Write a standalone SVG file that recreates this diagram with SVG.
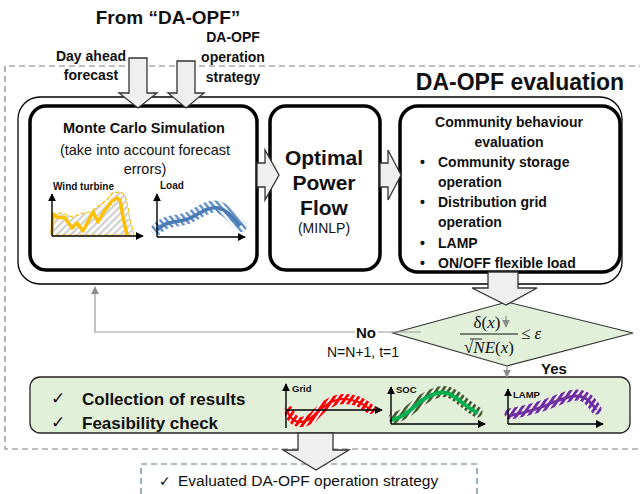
<svg xmlns="http://www.w3.org/2000/svg" width="640" height="494" viewBox="0 0 640 494">
<defs>
<style>
text{font-family:"Liberation Sans",Arial,sans-serif;fill:#111}
.b{font-weight:bold}
.box{fill:#fff;stroke:#000;stroke-width:3.5}
.blk{fill:#efefef;stroke:#333;stroke-width:1.3;stroke-linejoin:miter}
.ax{stroke:#000;stroke-width:1.4;fill:none;marker-end:url(#ah)}
.dash{fill:none;stroke:#7f7f7f;stroke-width:1.2;stroke-dasharray:6,4}
.m{font-family:"Liberation Serif","DejaVu Serif",serif}
.ck{font-family:"DejaVu Sans",sans-serif}
</style>
<marker id="ah" viewBox="0 0 10 10" refX="9" refY="5" markerWidth="8" markerHeight="8" markerUnits="userSpaceOnUse" orient="auto"><path d="M0,0 L10,5 L0,10 z" fill="#000"/></marker>
<marker id="ag" viewBox="0 0 10 10" refX="9" refY="5" markerWidth="8" markerHeight="8" markerUnits="userSpaceOnUse" orient="auto"><path d="M0,0 L10,5 L0,10 z" fill="#8c8c8c"/></marker>
<pattern id="pGray" width="5" height="5" patternUnits="userSpaceOnUse" patternTransform="rotate(45)"><rect width="5" height="5" fill="#fff"/><rect width="2.2" height="5" fill="#d0d0d0"/></pattern>
<pattern id="pBlue" width="5" height="5" patternUnits="userSpaceOnUse" patternTransform="rotate(-40)"><rect width="5" height="5" fill="#fff"/><rect width="2.4" height="5" fill="#5b8cc6"/></pattern>
<pattern id="pRed" width="5" height="5" patternUnits="userSpaceOnUse" patternTransform="rotate(35)"><rect width="5" height="5" fill="#fff"/><rect width="3" height="5" fill="#ff0000"/></pattern>
<pattern id="pGrn" width="5" height="5" patternUnits="userSpaceOnUse" patternTransform="rotate(35)"><rect width="5" height="5" fill="#fff"/><rect width="2.8" height="5" fill="#3d5a23"/></pattern>
<pattern id="pPur" width="5" height="5" patternUnits="userSpaceOnUse" patternTransform="rotate(35)"><rect width="5" height="5" fill="#fff"/><rect width="3" height="5" fill="#7030a0"/></pattern>
</defs>

<!-- frame -->
<path class="dash" d="M645,66 H5 V449 H645"/>
<text class="b" x="168" y="24" font-size="19" text-anchor="middle">From “DA-OPF”</text>
<text class="b" x="91" y="61" font-size="14" text-anchor="middle">Day ahead</text>
<text class="b" x="91" y="80" font-size="14" text-anchor="middle">forecast</text>
<text class="b" x="233" y="42" font-size="14" text-anchor="middle">DA-OPF</text>
<text class="b" x="233" y="62" font-size="14" text-anchor="middle">operation</text>
<text class="b" x="233" y="82" font-size="14" text-anchor="middle">strategy</text>
<text class="b" x="520" y="90" font-size="23" text-anchor="middle">DA-OPF evaluation</text>

<g id="evaluation-frame">
<rect x="18" y="97" width="604" height="187" rx="22" fill="#fff" stroke="#000" stroke-width="1.3"/>
</g>

<g id="monte-carlo">
<rect class="box" x="30" y="106" width="227" height="164" rx="16"/>
<text class="b" x="144" y="133" font-size="14.5" text-anchor="middle">Monte Carlo Simulation</text>
<text x="145" y="155" font-size="14.5" text-anchor="middle">(take into account forecast</text>
<text x="145" y="174" font-size="14.5" text-anchor="middle">errors)</text>
<text class="b" x="53" y="190" font-size="10">Wind turbine</text>
<path d="M52,235 L53,217 L60,213 L67,215 L73,217 L83,213 L90,212 L97,207 L107,200 L112,193 L120,192 L125,195 L128,207 L130,220 L133,230 L134,235 Z" fill="url(#pGray)" stroke="#ffc000" stroke-width="1.2" stroke-dasharray="4,2"/>
<polyline points="52,234 53,214 57,217 65,218 72,228 77,223 83,231 93,212 98,222 103,213 112,201 117,198 120,200 123,217 127,235" fill="none" stroke="#ffc000" stroke-width="3.5" stroke-linejoin="round"/>
<path class="ax" d="M52,236 V194"/>
<path class="ax" d="M52,236 H143"/>
<text class="b" x="160" y="189" font-size="10">Load</text>
<path d="M157,229 C165,220 175,222 188,218 C198,214 208,204 218,207 C228,210 234,220 241,226" fill="none" stroke="url(#pBlue)" stroke-width="12" stroke-linecap="round"/>
<path d="M157,230 C165,221 175,223 188,219 C198,215 208,206 218,208 C228,210 234,219 240,226" fill="none" stroke="#4a7ab3" stroke-width="3.5"/>
<path class="ax" d="M157,237 V194"/>
<path class="ax" d="M157,237 H245"/>
</g>

<g id="opf">
<rect class="box" x="270" y="106" width="110" height="164" rx="16"/>
<text class="b" x="324" y="165" font-size="21" text-anchor="middle">Optimal</text>
<text class="b" x="324" y="190" font-size="21" text-anchor="middle">Power</text>
<text class="b" x="324" y="215" font-size="21" text-anchor="middle">Flow</text>
<text x="324" y="233" font-size="14" text-anchor="middle">(MINLP)</text>
</g>

<g id="community">
<rect class="box" x="400" y="106" width="220" height="166" rx="18"/>
<text class="b" x="509" y="127" font-size="14" text-anchor="middle">Community behaviour</text>
<text class="b" x="509" y="147" font-size="14" text-anchor="middle">evaluation</text>
<text class="b" x="420" y="167" font-size="14">•</text><text class="b" x="438" y="167" font-size="14">Community storage</text>
<text class="b" x="438" y="187" font-size="14">operation</text>
<text class="b" x="420" y="207" font-size="14">•</text><text class="b" x="438" y="207" font-size="14">Distribution grid</text>
<text class="b" x="438" y="227" font-size="14">operation</text>
<text class="b" x="420" y="248" font-size="14">•</text><text class="b" x="438" y="248" font-size="14">LAMP</text>
<text class="b" x="420" y="268" font-size="14">•</text><text class="b" x="438" y="268" font-size="14">ON/OFF flexible load</text>
</g>

<g id="decision">
<polygon points="393,333 507,302 633,333 507,366" fill="#e2efd9" stroke="#333" stroke-width="1.2"/>
<text class="m" x="487" y="328" font-size="17" text-anchor="middle">δ(<tspan font-style="italic">x</tspan>)</text>
<line x1="460" y1="334" x2="518" y2="334" stroke="#111" stroke-width="1"/>
<text class="m" x="489" y="353" font-size="17" text-anchor="middle">√<tspan font-style="italic">NE</tspan>(<tspan font-style="italic">x</tspan>)</text>
<line x1="470" y1="339" x2="482" y2="339" stroke="#111" stroke-width="0.9"/>
<text class="m" x="521" y="339" font-size="17">≤ <tspan font-style="italic">ε</tspan></text>
</g>

<g id="results">
<rect x="30" y="377" width="600" height="56" rx="10" fill="#e2efd9" stroke="#222" stroke-width="1.3"/>
<text class="ck" x="51" y="404" font-size="17">✓</text>
<text class="b" x="82" y="405" font-size="17">Collection of results</text>
<text class="ck" x="51" y="428" font-size="17">✓</text>
<text class="b" x="82" y="429" font-size="17">Feasibility check</text>
<text class="b" x="292" y="392" font-size="9.5">Grid</text>
<path d="M289,411 C292,423 302,425 312,418 C322,408 330,399 345,399 C357,399 364,404 370,409" fill="none" stroke="url(#pRed)" stroke-width="10" stroke-linecap="round"/>
<path d="M287,410 C291,423 301,425 311,418 C321,409 330,399 344,399 C356,399 365,405 371,410" fill="none" stroke="#ff0000" stroke-width="2.2"/>
<path class="ax" d="M286,428 V384"/>
<path class="ax" d="M286,410 H382"/>
<text class="b" x="396" y="393" font-size="9.5">SOC</text>
<path d="M394,418 C405,415 412,408 422,400 C432,393 440,390 448,392 C458,395 466,406 477,412" fill="none" stroke="url(#pGrn)" stroke-width="11" stroke-linecap="round"/>
<path d="M392,420 C404,417 411,409 421,401 C431,394 439,391 447,393 C457,396 465,407 478,413" fill="none" stroke="#00b050" stroke-width="4"/>
<path class="ax" d="M391,424 V387"/>
<path class="ax" d="M391,424 H485"/>
<text class="b" x="513" y="398" font-size="9.5">LAMP</text>
<path d="M510,414 C525,411 540,408 555,401 C568,396 580,391 589,400 C593,404 595,407 596,409" fill="none" stroke="url(#pPur)" stroke-width="11" stroke-linecap="round"/>
<path d="M508,416 C524,413 539,409 554,402 C567,397 579,392 589,401 C593,405 595,408 596,410" fill="none" stroke="#7030a0" stroke-width="3"/>
<path class="ax" d="M508,424 V389"/>
<path class="ax" d="M508,424 H603"/>
</g>

<g id="output">
<path d="M141,494 V464 H477 V494" fill="none" stroke="#5b7896" stroke-width="1.2" stroke-dasharray="6,4"/>
<text class="ck" x="159" y="486" font-size="14">✓</text>
<text x="178" y="486" font-size="15.5">Evaluated DA-OPF operation strategy</text>
</g>

<g id="connectors">
<polygon class="blk" points="129,58 147,58 147,93 157,93 138,108 119,93 129,93"/>
<polygon class="blk" points="177,61 195,61 195,93 204,93 186,108 168,93 177,93"/>
<polygon class="blk" points="257,163 265,163 265,150 279,175 265,200 265,187 257,187"/>
<polygon class="blk" points="380,163 388,163 388,150 401,175 388,200 388,187 380,187"/>
<polygon class="blk" points="488,272 518,272 518,288 537,288 506,305 472,288 488,288"/>
<polygon class="blk" points="298,433 333,433 333,450 349,450 316,470 283,450 298,450"/>
<path d="M421,332 H95 V287" fill="none" stroke="#9a9a9a" stroke-width="1.2" marker-end="url(#ag)"/>
<line x1="506" y1="316" x2="506" y2="327" stroke="#8c8c8c" stroke-width="1.2" marker-end="url(#ag)"/>
<line x1="507" y1="366" x2="507" y2="377" stroke="#8c8c8c" stroke-width="1.2" marker-end="url(#ag)"/>
<rect x="355" y="324" width="23" height="16" fill="#fff"/>
<text class="b" x="356" y="338" font-size="15">No</text>
<text x="327" y="357" font-size="14">N=N+1, t=1</text>
<text class="b" x="541" y="374" font-size="15">Yes</text>
</g>
</svg>
